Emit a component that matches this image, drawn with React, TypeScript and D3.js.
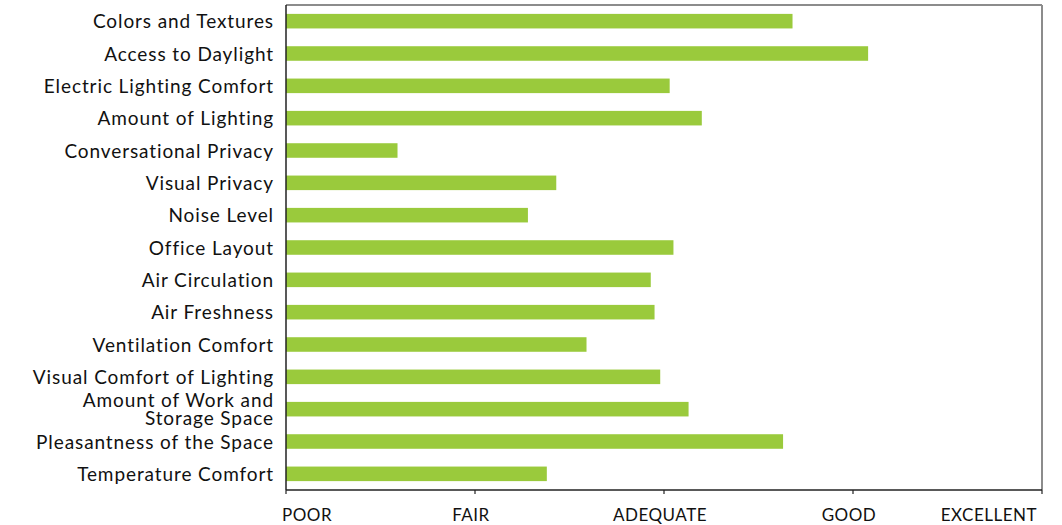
import React from "react";
import * as d3 from "d3";

const categories: string[][] = [
  ["Colors and Textures"],
  ["Access to Daylight"],
  ["Electric Lighting Comfort"],
  ["Amount of Lighting"],
  ["Conversational Privacy"],
  ["Visual Privacy"],
  ["Noise Level"],
  ["Office Layout"],
  ["Air Circulation"],
  ["Air Freshness"],
  ["Ventilation Comfort"],
  ["Visual Comfort of Lighting"],
  ["Amount of Work and", "Storage Space"],
  ["Pleasantness of the Space"],
  ["Temperature Comfort"],
];
const values: number[] = [2.68, 3.08, 2.03, 2.2, 0.59, 1.43, 1.28, 2.05, 1.93, 1.95, 1.59, 1.98, 2.13, 2.63, 1.38];
const tickLabels: string[] = ["POOR", "FAIR", "ADEQUATE", "GOOD", "EXCELLENT"];

const W = 1062;
const H = 525;
const left = 286;
const right = 1042;
const top = 5;
const bottom = 490;
const FONT = "Lato, 'Noto Sans', sans-serif";

export default function App() {
  const keys = categories.map((c, i) => String(i));
  const y = d3.scaleBand<string>().domain(keys).range([top, bottom]).paddingInner(0.55).paddingOuter(0.275);
  const x = d3.scaleLinear().domain([0, 4]).range([left, right]);
  const ticks = d3.range(0, 5);
  const tickLabelPos = (t: number): { px: number; anchor: string } => {
    if (t === 0) return { px: x(t) - 4, anchor: "start" };
    if (t === 4) return { px: x(t) - 5, anchor: "end" };
    return { px: x(t) - 4, anchor: "middle" };
  };
  return (
    <svg width={W} height={H} style={{ position: "absolute", left: 0, top: 0, background: "#fff" }}>
      {/* frame top/right */}
      <line x1={left} x2={right} y1={top} y2={top} stroke="#8c8c8c" strokeWidth={2} />
      <line x1={right} x2={right} y1={top} y2={bottom} stroke="#8c8c8c" strokeWidth={2} />
      {values.map((v, i) => (
        <rect key={i} x={x(0)} y={y(keys[i])!} width={x(v) - x(0)} height={y.bandwidth()} fill="#9aca3c" />
      ))}
      {/* axes */}
      <line x1={left} x2={left} y1={top} y2={bottom} stroke="#222" strokeWidth={1.5} />
      <line x1={left} x2={right} y1={bottom} y2={bottom} stroke="#222" strokeWidth={1.5} />
      {ticks.map((t) => {
        const p = tickLabelPos(t);
        return (
          <g key={t}>
            <line x1={x(t)} x2={x(t)} y1={bottom} y2={bottom + 4} stroke="#222" strokeWidth={1.2} />
            <text x={p.px} y={521} textAnchor={p.anchor} fontFamily={FONT} fontSize={17} letterSpacing={0.5} fill="#111">
              {tickLabels[t]}
            </text>
          </g>
        );
      })}
      {categories.map((lines, i) => {
        const cy = y(keys[i])! + y.bandwidth() / 2;
        const n = lines.length;
        return (
          <text key={i} x={274} textAnchor="end" fontFamily={FONT} fontSize={19} letterSpacing={0.9} fill="#111">
            {lines.map((l, j) => (
              <tspan key={j} x={274} y={cy + 7 + (j - (n - 1) / 2) * 18}>
                {l}
              </tspan>
            ))}
          </text>
        );
      })}
    </svg>
  );
}
